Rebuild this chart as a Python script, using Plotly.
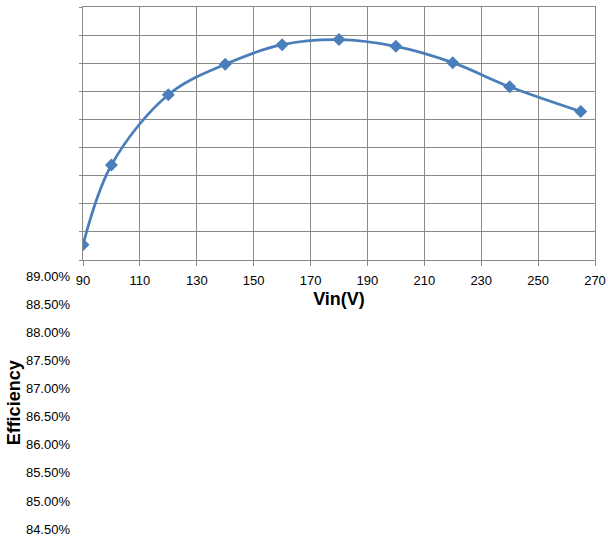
import plotly.graph_objects as go

vin = [90, 100, 120, 140, 160, 180, 200, 220, 240, 265]
efficiency = [84.77, 86.19, 87.44, 87.98, 88.33, 88.42, 88.30, 88.01, 87.58, 87.14]
x_ticks = [90, 110, 130, 150, 170, 190, 210, 230, 250, 270]
y_ticks = [84.5, 85.0, 85.5, 86.0, 86.5, 87.0, 87.5, 88.0, 88.5, 89.0]
y_labels = ["%.2f%%" % v for v in y_ticks]

grid = "#8a8a8a"
font = "Liberation Sans"

fig = go.Figure()
fig.add_trace(go.Scatter(
    x=vin, y=efficiency, mode="lines+markers",
    line=dict(color="#4a7ebb", width=2.75, shape="spline", smoothing=1),
    marker=dict(symbol="diamond", size=10, color="#4a7ebb"),
    showlegend=False, xaxis="x", yaxis="y",
))
# invisible helper trace so the label axis is drawn
fig.add_trace(go.Scatter(
    x=[vin[0]], y=[efficiency[0]], mode="markers", marker=dict(opacity=0),
    showlegend=False, hoverinfo="skip", xaxis="x2", yaxis="y2",
))

fig.update_layout(
    width=608, height=538,
    margin=dict(l=83, r=13, t=7, b=9, autoexpand=False),
    paper_bgcolor="white", plot_bgcolor="white",
    font=dict(family=font, size=13, color="#000000"),
    xaxis=dict(
        range=[90, 270], tickvals=x_ticks, showgrid=True, gridcolor=grid, gridwidth=1,
        showline=True, linecolor=grid, linewidth=1, mirror=True,
        ticks="outside", ticklen=5, tickcolor=grid, anchor="y",
        zeroline=False, automargin=False, ticklabelstandoff=3,
        title=dict(text="<b>Vin(V)</b>", font=dict(size=18, family=font), standoff=5),
    ),
    yaxis=dict(
        domain=[0.5153, 1.0], range=[84.5, 89.0], tickvals=y_ticks,
        showticklabels=False, showgrid=True, gridcolor=grid, gridwidth=1,
        showline=True, linecolor=grid, linewidth=1, mirror=True,
        ticks="outside", ticklen=3, tickcolor=grid, zeroline=False,
        automargin=False, anchor="x",
    ),
    xaxis2=dict(
        range=[90, 270], visible=False, anchor="y2", automargin=False,
    ),
    yaxis2=dict(
        domain=[0.0, 0.4833], range=[84.5, 89.0], tickvals=y_ticks, ticktext=y_labels,
        showgrid=False, showline=False, zeroline=False, ticks="",
        anchor="x2", ticklabelstandoff=12, automargin=False,
        title=dict(text="<b>Efficiency</b>", font=dict(size=18, family=font), standoff=0),
    ),
)

fig.write_html("out.html", config={"displayModeBar": False},
               post_script="document.body.style.margin='0';")
